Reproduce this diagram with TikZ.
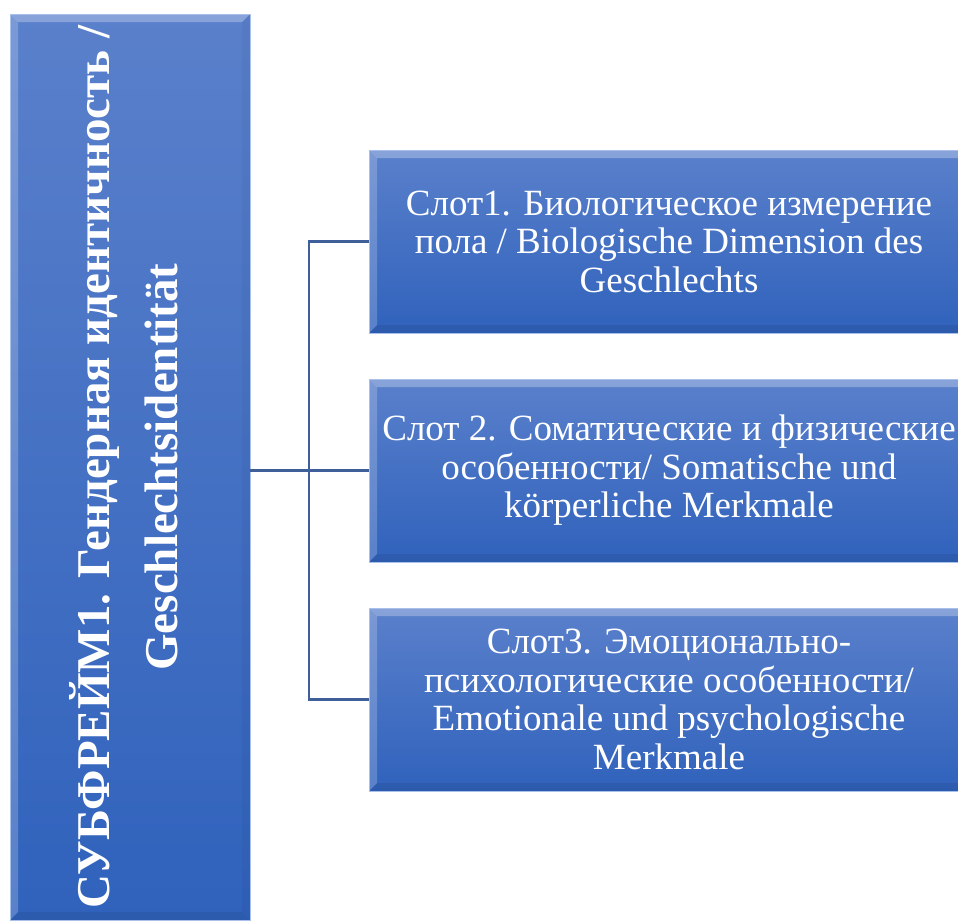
\documentclass[tikz,border=0pt]{standalone}
\usepackage{fontspec}
\setmainfont{Liberation Serif}
\definecolor{boxtop}{HTML}{5A80CB}
\definecolor{boxbot}{HTML}{3062BC}
\definecolor{linecol}{HTML}{3F5F9B}
\definecolor{edgecol}{HTML}{A8C0EA}
\tikzset{
  bevelbox/.style={draw=edgecol, line width=0.8pt, top color=boxtop, bottom color=boxbot,
    inner sep=0pt, outer sep=0pt,
    path picture={
      \def\b{8pt}
      \fill[white,opacity=0.28] (path picture bounding box.north west) -- (path picture bounding box.north east)
        -- ([xshift=-\b,yshift=-\b]path picture bounding box.north east) -- ([xshift=\b,yshift=-\b]path picture bounding box.north west) -- cycle;
      \fill[white,opacity=0.2] (path picture bounding box.north west) -- (path picture bounding box.south west)
        -- ([xshift=\b,yshift=\b]path picture bounding box.south west) -- ([xshift=\b,yshift=-\b]path picture bounding box.north west) -- cycle;
      \fill[black,opacity=0.08] (path picture bounding box.south west) -- (path picture bounding box.south east)
        -- ([xshift=-\b,yshift=\b]path picture bounding box.south east) -- ([xshift=\b,yshift=\b]path picture bounding box.south west) -- cycle;
      \fill[black,opacity=0.04] (path picture bounding box.north east) -- (path picture bounding box.south east)
        -- ([xshift=-\b,yshift=\b]path picture bounding box.south east) -- ([xshift=-\b,yshift=-\b]path picture bounding box.north east) -- cycle;
    }},
  slottext/.style={text=white, align=center, font=\fontsize{37}{38.5}\selectfont, inner sep=0pt},
  maintext/.style={text=white, align=center, font=\bfseries\fontsize{47}{68}\selectfont, inner sep=0pt, rotate=90},
  conn/.style={draw=linecol, line width=2.4pt}
}
\begin{document}
\begin{tikzpicture}[x=1pt,y=-1pt]
\useasboundingbox (0,0) rectangle (958,921);
% left frame box
\node[bevelbox, minimum width=240pt, minimum height=906pt] (L) at (130,467) {};
\node[maintext] (Lt) at ([xshift=-6pt]L.center) {СУБФРЕЙМ1. Гендерная идентичность /\\Geschlechtsidentität};
% slot boxes
\node[bevelbox, minimum width=600pt, minimum height=183pt] (B1) at (669,241.5) {};
\node[bevelbox, minimum width=600pt, minimum height=183pt] (B2) at (669,470.5) {};
\node[bevelbox, minimum width=600pt, minimum height=183pt] (B3) at (669,699.5) {};
\node[slottext] (T1) at (B1.center) {Слот1. Биологическое измерение\\пола / Biologische Dimension des\\Geschlechts};
\node[slottext] (T2) at (B2.center) {Слот 2. Соматические и физические\\особенности/ Somatische und\\körperliche Merkmale};
\node[slottext] (T3) at (B3.center) {Слот3. Эмоционально-\\психологические особенности/\\Emotionale und psychologische\\Merkmale};
% connectors
\coordinate (J) at (309,470.5);
\draw[conn] (L.east |- B2.west) -- (B2.west);
\draw[conn] (B1.west) -- (J |- B1.west) -- (J |- B3.west) -- (B3.west);
\end{tikzpicture}
\end{document}
